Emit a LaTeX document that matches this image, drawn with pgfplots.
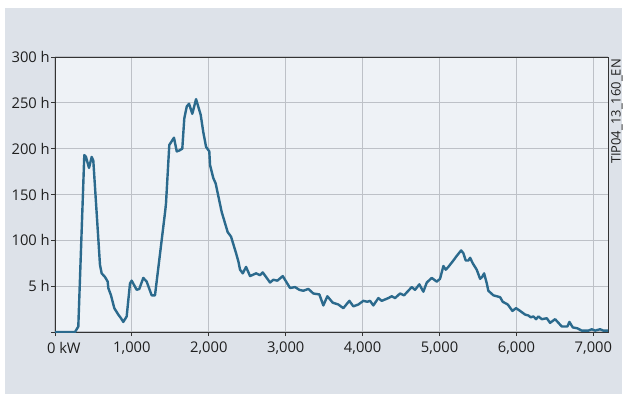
\documentclass[border=0pt]{standalone}
\usepackage{pgfplots}
\pgfplotsset{compat=1.18}
\usepackage{fontspec}
\setmainfont{Open Sans}
\definecolor{panel}{HTML}{DDE2E9}
\definecolor{plotbg}{HTML}{EEF2F6}
\definecolor{gridc}{HTML}{BDC1C7}
\definecolor{linec}{HTML}{2B6A8D}
\definecolor{axc}{HTML}{333333}
\begin{document}
\begin{tikzpicture}[x=1bp,y=1bp]
\fill[white] (0,0) rectangle (627,394);
\fill[panel] (5,0) rectangle (622,386);
\begin{axis}[
  at={(55bp,62bp)}, anchor=south west,
  scale only axis, width=553bp, height=275bp,
  xmin=0, xmax=7190, ymin=0, ymax=300,
  axis background/.style={fill=plotbg},
  xtick={0,1000,...,7000},
  xticklabels={{\makebox[0pt][l]{\hspace{-8bp}0 kW}},{1,000},{2,000},{3,000},{4,000},{5,000},{6,000},{7,000}},
  ytick={0,50,...,300},
  yticklabels={{},{5 h},{100 h},{150 h},{200 h},{250 h},{300 h}},
  xtick pos=lower, ytick pos=left,
  grid=major, major grid style={gridc, line width=1.1bp},
  axis line style={axc, line width=0.9bp},
  tick align=outside, major tick length=4bp,
  tick style={axc, line width=0.9bp},
  ticklabel style={font=\fontsize{14.8}{16}\selectfont, text=black!88},
  yticklabel style={inner sep=1bp},
  xticklabel style={inner sep=2bp, yshift=-4bp},
]
\addplot[linec, line width=2.4bp, line join=round] coordinates {
(0,0) (260,0) (303,6) (381,193) (403,191) (442,179) (477,191) (498,187)
(585,73) (607,64) (650,60) (685,55) (693,48) (728,40) (771,26) (823,19)
(858,15) (888,11) (932,17) (975,53) (997,56) (1062,46) (1096,47) (1148,59)
(1192,55) (1257,40) (1300,40) (1430,130) (1443,140) (1486,204) (1547,212)
(1583,197) (1616,198) (1655,200) (1681,233) (1713,246) (1743,249) (1785,238)
(1834,254) (1894,237) (1928,218) (1964,202) (2006,197) (2016,182) (2058,168)
(2089,162) (2167,131) (2245,109) (2289,104) (2354,86) (2384,77) (2406,68)
(2441,64) (2484,71) (2536,61) (2614,64) (2666,62) (2701,65) (2796,54)
(2839,57) (2891,56) (2961,61) (3056,48) (3121,49) (3177,46) (3229,45)
(3294,47) (3359,42) (3437,41) (3489,29) (3541,39) (3611,32) (3684,30)
(3749,26) (3827,34) (3879,28) (3944,30) (4009,34) (4061,33) (4096,34)
(4139,29) (4204,37) (4248,34) (4334,37) (4378,39) (4421,37) (4486,42)
(4538,40) (4638,49) (4681,46) (4737,52) (4789,44) (4834,54) (4898,59)
(4963,55) (5006,58) (5050,72) (5080,68) (5114,71) (5179,78) (5223,83)
(5280,89) (5309,86) (5340,78) (5375,78) (5397,81) (5431,75) (5483,68)
(5527,58) (5553,60) (5579,64) (5614,53) (5634,45) (5700,40) (5787,38)
(5821,33) (5887,30) (5947,23) (5995,26) (6047,23) (6112,19) (6155,18)
(6186,16) (6220,17) (6255,14) (6285,17) (6329,14) (6394,15) (6437,10)
(6502,14) (6589,6) (6662,6) (6688,11) (6732,5) (6792,4) (6849,1.5)
(6935,1.5) (6979,3) (7022,1.5) (7087,3) (7130,1.5) (7190,1.5)
};
\end{axis}
\node[rotate=90, anchor=east, font=\fontsize{13}{15}\selectfont, text=black!88, inner sep=0pt] at (617,335) {TIP04\_13\_160\_EN};
\end{tikzpicture}
\end{document}
